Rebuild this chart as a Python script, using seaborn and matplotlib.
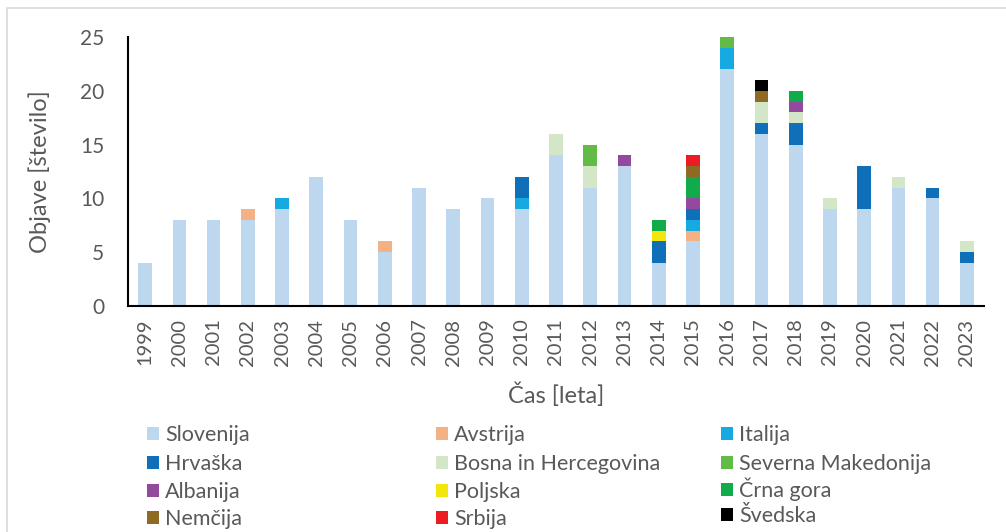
import pandas as pd
import matplotlib.pyplot as plt
import seaborn as sns
from matplotlib.patches import Patch, Rectangle

# Podatki
leta = ['1999', '2000', '2001', '2002', '2003', '2004', '2005', '2006', '2007',
        '2008', '2009', '2010', '2011', '2012', '2013', '2014', '2015', '2016',
        '2017', '2018', '2019', '2020', '2021', '2022', '2023']

slovenija = [4, 8, 8, 8, 9, 12, 8, 5, 11, 9, 10, 9, 14, 11, 13, 4, 6, 22, 16, 15, 9, 9, 11, 10, 4]
avstrija = [0, 0, 0, 1, 0, 0, 0, 1, 0, 0, 0, 0, 0, 0, 0, 0, 1, 0, 0, 0, 0, 0, 0, 0, 0]
italija = [0, 0, 0, 0, 1, 0, 0, 0, 0, 0, 0, 1, 0, 0, 0, 0, 1, 2, 0, 0, 0, 0, 0, 0, 0]
hrvaska = [0, 0, 0, 0, 0, 0, 0, 0, 0, 0, 0, 2, 0, 0, 0, 2, 1, 0, 1, 2, 0, 4, 0, 1, 1]
bih = [0, 0, 0, 0, 0, 0, 0, 0, 0, 0, 0, 0, 2, 2, 0, 0, 0, 0, 2, 1, 1, 0, 1, 0, 1]
makedonija = [0, 0, 0, 0, 0, 0, 0, 0, 0, 0, 0, 0, 0, 2, 0, 0, 0, 1, 0, 0, 0, 0, 0, 0, 0]
albanija = [0, 0, 0, 0, 0, 0, 0, 0, 0, 0, 0, 0, 0, 0, 1, 0, 1, 0, 0, 1, 0, 0, 0, 0, 0]
poljska = [0, 0, 0, 0, 0, 0, 0, 0, 0, 0, 0, 0, 0, 0, 0, 1, 0, 0, 0, 0, 0, 0, 0, 0, 0]
crna_gora = [0, 0, 0, 0, 0, 0, 0, 0, 0, 0, 0, 0, 0, 0, 0, 1, 2, 0, 0, 1, 0, 0, 0, 0, 0]
nemcija = [0, 0, 0, 0, 0, 0, 0, 0, 0, 0, 0, 0, 0, 0, 0, 0, 1, 0, 1, 0, 0, 0, 0, 0, 0]
srbija = [0, 0, 0, 0, 0, 0, 0, 0, 0, 0, 0, 0, 0, 0, 0, 0, 1, 0, 0, 0, 0, 0, 0, 0, 0]
svedska = [0, 0, 0, 0, 0, 0, 0, 0, 0, 0, 0, 0, 0, 0, 0, 0, 0, 0, 1, 0, 0, 0, 0, 0, 0]

drzave = ['Slovenija', 'Avstrija', 'Italija', 'Hrvaška', 'Bosna in Hercegovina',
          'Severna Makedonija', 'Albanija', 'Poljska', 'Črna gora', 'Nemčija',
          'Srbija', 'Švedska']
serije = [slovenija, avstrija, italija, hrvaska, bih, makedonija, albanija,
          poljska, crna_gora, nemcija, srbija, svedska]
barve = ['#BDD7EE', '#F4B183', '#17A9E1', '#0F6FB8', '#D4E6C8', '#62BB46',
         '#92499E', '#F3E60C', '#12AB4B', '#8E6A25', '#ED1C24', '#000000']

siva = '#595959'

sns.set_style('white')
plt.rcParams['font.family'] = ['Lato', 'DejaVu Sans']

fig = plt.figure(figsize=(10.06, 5.32), dpi=100)
ax = fig.add_axes([128 / 1006, 226 / 532, 856 / 1006, 269 / 532])

# Zložen stolpični graf: rišemo kumulativne vsote od zgoraj navzdol
data = pd.DataFrame(dict(zip(drzave, serije)), index=leta)
kumul = data.cumsum(axis=1)
for drzava, barva in reversed(list(zip(drzave, barve))):
    df = pd.DataFrame({'Leto': leta, 'Objave': kumul[drzava].values})
    sns.barplot(data=df, x='Leto', y='Objave', order=leta, color=barva,
                width=0.4, saturation=1, linewidth=0, ax=ax)

ax.set_xlim(-0.5, len(leta) - 0.5)
ax.set_ylim(0, 25)
ax.set_yticks([0, 5, 10, 15, 20, 25])

for s in ['top', 'right']:
    ax.spines[s].set_visible(False)
for s in ['left', 'bottom']:
    ax.spines[s].set_color('black')
    ax.spines[s].set_linewidth(1.5)

ax.tick_params(axis='y', length=0, pad=17, labelsize=15, labelcolor=siva)
ax.tick_params(axis='x', length=0, pad=9, labelsize=14.5, labelcolor=siva,
               labelrotation=90)

ax.set_xlabel('Čas [leta]', fontsize=17, color=siva)
ax.set_ylabel('Objave [število]', fontsize=17, color=siva)
ax.xaxis.set_label_coords(0.5, (306 - 395) / 269)
ax.xaxis.label.set_va('center')
ax.yaxis.set_label_coords((40 - 128) / 856, 0.5)
ax.yaxis.label.set_va('center')

# Legenda: 3 stolpci x 4 vrstice, vsak vnos posebej
stolpci_x = [147, 436, 721]
vrstice_y = [435, 464, 492, 519]
for j, (drzava, barva) in enumerate(zip(drzave, barve)):
    x0 = stolpci_x[j % 3]
    y0 = vrstice_y[j // 3]
    # naglašene velike črke povečajo višino besedila, zato vnos malo dvignemo
    if drzava[0] in 'ČŠ':
        y0 -= 2.5
    leg = fig.legend(handles=[Patch(facecolor=barva, edgecolor='none', label=drzava)],
                     loc='center left', bbox_to_anchor=(x0 / 1006, 1 - y0 / 532),
                     frameon=False, fontsize=15.5, handlelength=0.55,
                     handleheight=0.55, handletextpad=0.3, borderpad=0,
                     borderaxespad=0)
    for t in leg.get_texts():
        t.set_color(siva)

# Okvir grafikona
fig.patches.append(Rectangle((7 / 1006, -0.1), 1.2, 1 - 8 / 532 + 0.1,
                             transform=fig.transFigure, fill=False,
                             edgecolor='#D9D9D9', linewidth=1.2))

fig.savefig('out.png', dpi=100)
plt.close(fig)
